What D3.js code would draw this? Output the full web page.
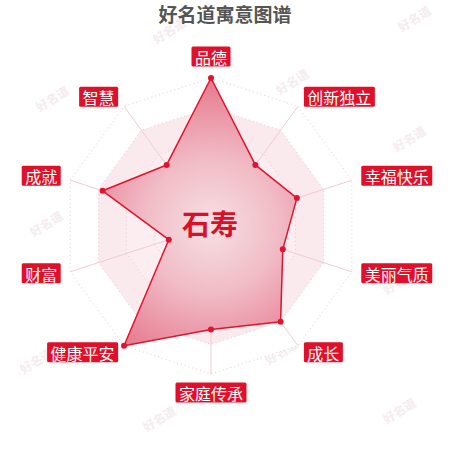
<!DOCTYPE html>
<html>
<head>
<meta charset="utf-8">
<script src="https://cdn.jsdelivr.net/npm/d3@7/dist/d3.min.js"></script>
<style>
html,body{margin:0;padding:0;background:#fff;}
svg{display:block;font-family:"Noto Sans CJK SC","Noto Sans",sans-serif;}
</style>
</head>
<body>
<svg id="chart" width="450" height="450"></svg>
<script>
const title = "好名道寓意图谱";
const centerName = "石寿";
const categories = ["品德","创新独立","幸福快乐","美丽气质","成长","家庭传承","健康平安","财富","成就","智慧"];
const values = [100, 51, 61, 51, 80, 70, 100, 30, 77, 51];
const maxValue = 100;
const levels = 5;
const watermarkText = "好名道";

const svg = d3.select("#chart");
const cx = 211, cy = 226, R = 148;
const n = categories.length;

const r = d3.scaleLinear().domain([0, maxValue]).range([0, R]);
const angle = d3.scaleLinear().domain([0, n]).range([0, 2 * Math.PI]);

function pt(i, rad) {
  const a = angle(i);
  return [cx + rad * Math.sin(a), cy - rad * Math.cos(a)];
}

const defs = svg.append("defs");
const grad = defs.append("radialGradient").attr("id", "areaGrad")
  .attr("gradientUnits", "userSpaceOnUse")
  .attr("cx", 0).attr("cy", 0).attr("r", R);
grad.append("stop").attr("offset", "0%").attr("stop-color", "#f7e0e4");
grad.append("stop").attr("offset", "45%").attr("stop-color", "#f1bcc6");
grad.append("stop").attr("offset", "100%").attr("stop-color", "#e6788d");

// watermarks (decoration)
const wmPos = [[53,100],[170,32],[293,83],[415,20],[410,140],[47,225],[400,283],[37,362],[282,353],[160,420],[400,412]];
svg.append("g").selectAll("text").data(wmPos).join("text")
  .attr("transform", d => `translate(${d[0]},${d[1]}) rotate(-32)`)
  .attr("text-anchor", "middle").attr("dominant-baseline", "middle")
  .attr("font-size", 12).attr("font-weight", "bold")
  .attr("fill", "#f4ecee")
  .text(watermarkText);

// split areas
const bandColors = ["#fcf3f5", "#fbf0f2", "#fbedf0", "#faeaee", "#ffffff"];
const ringLevels = d3.range(levels, 0, -1);
const ringPoints = lvl => {
  const rad = r(maxValue * lvl / levels);
  return d3.range(n).map(i => pt(i, rad)).map(p => p.join(",")).join(" ");
};
svg.append("g").selectAll("polygon").data(ringLevels).join("polygon")
  .attr("points", ringPoints)
  .attr("fill", lvl => bandColors[lvl - 1])
  .attr("stroke", "none");

// grid lines
svg.append("g").selectAll("polygon").data(ringLevels).join("polygon")
  .attr("points", ringPoints)
  .attr("fill", "none")
  .attr("stroke", "#e6cbd1")
  .attr("stroke-width", 1)
  .attr("stroke-dasharray", "1,3");

// axis lines
svg.append("g").selectAll("line").data(categories).join("line")
  .attr("x1", cx).attr("y1", cy)
  .attr("x2", (d, i) => pt(i, R)[0])
  .attr("y2", (d, i) => pt(i, R)[1])
  .attr("stroke", "#f2cbd2")
  .attr("stroke-width", 1);

// data area
const line = d3.lineRadial()
  .angle((d, i) => angle(i))
  .radius(d => r(d))
  .curve(d3.curveLinearClosed);

svg.append("path").datum(values)
  .attr("transform", `translate(${cx},${cy})`)
  .attr("d", line)
  .attr("fill", "url(#areaGrad)")
  .attr("stroke", "#e2132f")
  .attr("stroke-width", 1.5)
  .attr("stroke-linejoin", "round");

// points
svg.append("g").selectAll("circle").data(values).join("circle")
  .attr("cx", (d, i) => pt(i, r(d))[0])
  .attr("cy", (d, i) => pt(i, r(d))[1])
  .attr("r", 3)
  .attr("fill", "#e2132f");

// labels
const labelGap = 158;
const fs = 16, padX = 3.5, boxH = 20;
const lg = svg.append("g");
categories.forEach((name, i) => {
  const a = angle(i);
  const s = Math.sin(a), c = Math.cos(a);
  const ax = cx + labelGap * s, ay = cy - 1.5 - labelGap * c;
  const t = lg.append("text")
    .attr("font-size", fs)
    .attr("fill", "#fff")
    .attr("text-anchor", "middle")
    .attr("dominant-baseline", "central")
    .text(name);
  const w = t.node().getComputedTextLength() + padX * 2;
  let bx, by;
  if (Math.abs(s) < 0.01) { bx = ax - w / 2; }
  else if (s > 0) { bx = ax; }
  else { bx = ax - w; }
  if (Math.abs(s) < 0.01) { by = c > 0 ? ay - boxH : ay; }
  else { by = ay - boxH / 2; }
  lg.insert("rect", "text")
    .attr("x", bx).attr("y", by).attr("width", w).attr("height", boxH)
    .attr("rx", 1.5)
    .attr("fill", "#e0102b");
  t.attr("x", bx + w / 2).attr("y", by + boxH / 2 + 0.5);
});

// center name
svg.append("text")
  .attr("x", 210).attr("y", 223)
  .attr("text-anchor", "middle").attr("dominant-baseline", "central")
  .attr("font-size", 28).attr("font-weight", "bold")
  .attr("fill", "#d8102a")
  .text(centerName);

// title
svg.append("text")
  .attr("x", 225).attr("y", 13)
  .attr("text-anchor", "middle").attr("dominant-baseline", "central")
  .attr("font-size", 19).attr("font-weight", "bold")
  .attr("fill", "#555")
  .text(title);
</script>
</body>
</html>
